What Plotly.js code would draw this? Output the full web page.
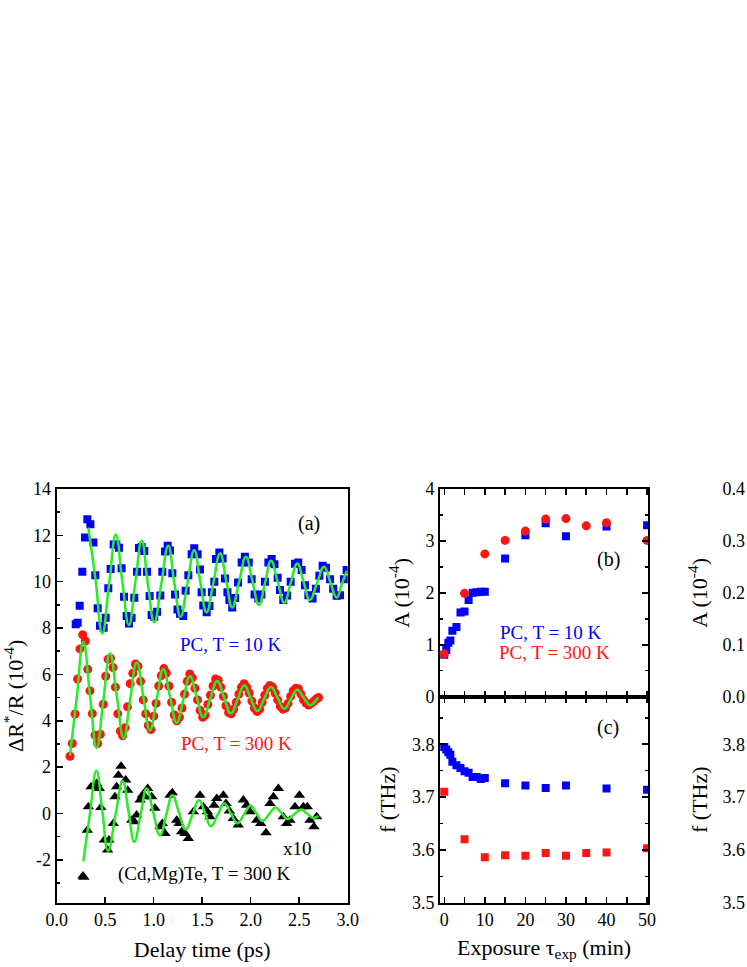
<!DOCTYPE html>
<html>
<head>
<meta charset="utf-8">
<script src="https://cdn.plot.ly/plotly-3.0.1.min.js"></script>
<style>html,body{margin:0;padding:0;background:#fff;overflow:hidden}</style>
</head>
<body>
<div id="chart" style="width:747px;height:967px"></div>
<script>
// ---- Panel (a): PC, T = 10 K (blue squares) ----
const blueT = [0.196,0.216,0.237,0.264,0.292,0.316,0.347,0.378,0.398,0.422,0.446,0.484,0.505,0.532,0.556,0.587,0.615,0.642,0.669,0.694,0.721,0.745,0.772,0.800,0.828,0.848,0.876,0.903,0.931,0.958,0.979,1.006,1.035,1.068,1.089,1.117,1.144,1.168,1.192,1.220,1.245,1.271,1.305,1.329,1.357,1.391,1.418,1.453,1.477,1.494,1.511,1.546,1.575,1.600,1.625,1.642,1.677,1.711,1.735,1.760,1.780,1.810,1.840,1.870,1.907,1.940,1.980,2.010,2.040,2.079,2.110,2.147,2.182,2.216,2.245,2.278,2.302,2.336,2.375,2.412,2.457,2.490,2.525,2.559,2.594,2.638,2.672,2.708,2.742,2.776,2.818,2.850,2.886,2.921,2.962,2.989];
const blueV = [8.16,8.23,8.96,10.43,11.91,12.70,12.48,11.69,10.28,8.85,8.10,8.01,8.45,9.72,10.55,11.61,11.61,11.47,10.58,9.35,8.52,8.20,8.45,9.31,10.43,11.45,11.50,11.33,10.43,9.38,8.56,8.49,8.70,9.41,10.43,11.30,11.55,11.35,10.37,9.45,8.80,8.62,8.52,9.61,10.28,11.18,11.44,11.18,10.53,9.54,8.97,8.68,8.95,9.55,10.00,10.98,11.26,11.00,10.14,9.55,9.21,8.89,9.30,9.97,10.83,11.08,10.83,10.11,9.45,9.28,9.45,10.00,10.83,10.98,10.75,10.17,9.64,9.21,9.40,10.00,10.78,10.83,10.50,9.85,9.42,9.28,9.70,10.26,10.69,10.60,10.11,9.70,9.39,9.42,10.11,10.50];
const blueFitT = [0.326,0.40,0.47,0.54,0.61,0.678,0.745,0.81,0.876,0.94,1.006,1.078,1.15,1.213,1.277,1.347,1.418,1.48,1.545,1.615,1.684,1.747,1.81,1.88,1.95,2.018,2.085,2.148,2.21,2.278,2.346,2.413,2.48,2.545,2.61,2.683,2.756,2.821,2.886,2.94,2.99];
const blueFitV = [12.34,10.1,7.77,9.9,12.04,9.95,8.13,9.95,11.77,9.9,8.25,9.9,11.55,9.92,8.49,9.92,11.36,10.0,8.68,9.95,11.22,10.05,8.89,9.98,11.08,10.03,8.99,9.95,10.9,10.0,9.09,9.95,10.79,10.0,9.21,9.93,10.65,9.98,9.32,9.9,10.46];

// ---- Panel (a): PC, T = 300 K (red circles) ----
const redT = [0.137,0.161,0.189,0.215,0.240,0.268,0.295,0.320,0.343,0.367,0.395,0.422,0.450,0.480,0.505,0.530,0.555,0.580,0.605,0.630,0.657,0.680,0.705,0.730,0.758,0.785,0.812,0.838,0.865,0.892,0.918,0.945,0.972,1.000,1.025,1.052,1.078,1.105,1.130,1.158,1.185,1.212,1.238,1.265,1.292,1.318,1.345,1.372,1.398,1.425,1.452,1.478,1.505,1.530,1.558,1.585,1.612,1.638,1.665,1.692,1.718,1.745,1.772,1.800,1.825,1.852,1.878,1.905,1.932,1.958,1.985,2.012,2.038,2.065,2.092,2.118,2.145,2.172,2.198,2.225,2.252,2.278,2.305,2.332,2.358,2.385,2.412,2.438,2.465,2.492,2.518,2.545,2.572,2.598,2.625,2.652,2.680,2.700];
const redV = [2.47,3.02,4.29,5.80,7.10,7.71,7.44,6.22,5.29,4.31,3.38,3.02,3.42,4.71,5.92,6.65,6.70,6.30,5.45,4.30,3.55,3.35,3.70,4.60,5.60,6.05,6.45,6.35,5.70,4.90,4.30,3.80,3.62,4.20,4.75,5.50,5.95,6.25,6.05,5.50,4.80,4.25,4.00,4.15,4.55,5.15,5.70,6.02,5.85,5.40,4.90,4.45,4.15,4.25,4.70,5.10,5.50,5.80,5.75,5.45,5.05,4.65,4.35,4.30,4.50,4.80,5.15,5.45,5.60,5.45,5.20,4.85,4.55,4.40,4.50,4.80,5.10,5.40,5.52,5.45,5.20,4.90,4.62,4.50,4.55,4.75,5.05,5.30,5.40,5.38,5.15,4.90,4.75,4.68,4.75,4.85,4.95,5.00];
const redFitT = [0.137,0.206,0.275,0.343,0.412,0.48,0.549,0.62,0.69,0.757,0.825,0.893,0.962,1.03,1.099,1.168,1.237,1.305,1.374,1.443,1.511,1.583,1.655,1.726,1.797,1.865,1.934,2.0,2.068,2.138,2.209,2.277,2.346,2.413,2.48,2.545,2.611,2.655,2.697];
const redFitV = [2.5,5.0,7.40,5.1,2.84,4.85,6.90,5.05,3.25,4.9,6.51,5.05,3.59,4.9,6.22,5.05,3.91,4.9,5.92,5.04,4.16,4.94,5.72,5.0,4.31,4.92,5.53,4.97,4.42,4.94,5.46,4.99,4.52,4.93,5.34,5.0,4.67,4.8,5.0];

// ---- Panel (a): (Cd,Mg)Te, T = 300 K, x10 (black triangles) ----
const cmtT = [0.270,0.280,0.316,0.326,0.354,0.388,0.412,0.440,0.455,0.491,0.525,0.539,0.584,0.601,0.618,0.636,0.663,0.711,0.732,0.773,0.800,0.824,0.859,0.883,0.910,0.938,0.979,1.013,1.065,1.089,1.116,1.168,1.192,1.237,1.261,1.288,1.323,1.357,1.409,1.477,1.512,1.553,1.580,1.622,1.650,1.718,1.745,1.780,1.820,1.872,1.924,1.958,1.993,2.062,2.103,2.158,2.199,2.234,2.285,2.336,2.371,2.405,2.457,2.502,2.543,2.584,2.611,2.652,2.680];
const cmtV = [-2.70,-2.75,-0.72,0.29,1.15,1.18,1.29,1.08,0.26,-1.15,-1.58,-1.15,-0.43,0.72,1.15,1.65,2.04,1.44,1.00,-0.29,-0.36,-0.07,0.58,0.79,0.72,1.08,0.72,0.22,-0.57,-0.43,-0.86,0.79,0.89,-0.29,-0.43,-0.79,-0.86,-1.08,0.07,0.79,0.29,0.07,-0.14,0.36,0.65,0.79,0.43,0.11,-0.22,-0.50,0.58,0.36,0.07,-0.29,-0.43,-0.83,0.43,0.72,1.08,-0.14,-0.43,-0.29,0.29,0.79,0.29,0.29,-0.29,-0.57,-0.14];
const cmtFitT = [0.275,0.34,0.41,0.47,0.53,0.605,0.68,0.74,0.80,0.865,0.927,0.995,1.065,1.13,1.193,1.26,1.33,1.40,1.467,1.53,1.59,1.66,1.728,1.795,1.862,1.93,1.999,2.06,2.12,2.19,2.257,2.32,2.38,2.45,2.519,2.58,2.645,2.697];
const cmtFitV = [-2.07,-0.1,1.84,0.1,-1.61,-0.1,1.39,0.1,-1.22,-0.05,1.08,0.05,-0.94,-0.05,0.79,0.05,-0.69,-0.05,0.57,0.0,-0.55,-0.05,0.43,0.0,-0.43,-0.05,0.33,0.0,-0.33,-0.03,0.26,0.0,-0.24,-0.03,0.17,0.0,-0.19,-0.11];

// ---- Panels (b) and (c): exposure dependence ----
const expBlue = [0,0.5,1,1.5,2,3,4,5,6,7,8,9,10,15,20,25,30,40,50];
const ampBlue = [0.81,0.90,1.04,1.08,1.27,1.34,1.62,1.64,1.86,2.00,2.01,2.02,2.02,2.66,3.11,3.34,3.09,3.28,3.30];
const freqBlue = [3.795,3.790,3.785,3.780,3.767,3.760,3.755,3.749,3.746,3.738,3.738,3.734,3.736,3.726,3.722,3.717,3.722,3.716,3.714];
const expRed = [0,5,10,15,20,25,30,35,40,50];
const ampRed = [0.82,1.99,2.75,3.01,3.19,3.42,3.43,3.29,3.35,3.01];
const freqRed = [3.71,3.62,3.586,3.59,3.589,3.594,3.589,3.594,3.595,3.603];

// ---- tick labels ----
const aYTicks = [-2,0,2,4,6,8,10,12,14];
const aYLabels = ['-2','0','2','4','6','8','10','12','14'];

const FONT = 'Liberation Serif, Times New Roman, serif';
const BLUE = 'rgb(0,0,255)';
const RED = 'rgb(255,20,20)';
const GREEN = 'rgb(40,235,40)';
const W = 747, H = 967;
const px = (a,b) => [a/W, b/W];
const py = (top,bottom) => [1-bottom/H, 1-top/H];

const traces = [
  {x: blueT, y: blueV, mode:'markers', marker:{symbol:'square', size:8, color:BLUE}, xaxis:'x', yaxis:'y'},
  {x: blueFitT, y: blueFitV, mode:'lines', line:{color:GREEN, width:2.5, shape:'spline', smoothing:1.3}, xaxis:'x', yaxis:'y'},
  {x: redT, y: redV, mode:'markers', marker:{symbol:'circle', size:9, color:RED}, xaxis:'x', yaxis:'y'},
  {x: redFitT, y: redFitV, mode:'lines', line:{color:GREEN, width:2.5, shape:'spline', smoothing:1.3}, xaxis:'x', yaxis:'y'},
  {x: cmtT, y: cmtV, mode:'markers', marker:{symbol:'triangle-up', size:10, color:'black'}, xaxis:'x', yaxis:'y'},
  {x: cmtFitT, y: cmtFitV, mode:'lines', line:{color:GREEN, width:2.5, shape:'spline', smoothing:1.3}, xaxis:'x', yaxis:'y'},
  {x: expBlue, y: ampBlue, mode:'markers', marker:{symbol:'square', size:8, color:BLUE}, xaxis:'x2', yaxis:'y2'},
  {x: expRed, y: ampRed, mode:'markers', marker:{symbol:'circle', size:9, color:RED}, xaxis:'x2', yaxis:'y2'},
  {x: expBlue, y: freqBlue, mode:'markers', marker:{symbol:'square', size:8, color:BLUE}, xaxis:'x3', yaxis:'y3'},
  {x: expRed, y: freqRed, mode:'markers', marker:{symbol:'square', size:8, color:RED}, xaxis:'x3', yaxis:'y3'},
  {x: [], y: [], mode:'markers', xaxis:'x4', yaxis:'y4'},
  {x: [], y: [], mode:'markers', xaxis:'x5', yaxis:'y5'}
];

const tf = {family: FONT, size: 18, color:'black'};
const ttf = {family: FONT, size: 22, color:'black'};
const base = {showgrid:false, zeroline:false, showline:true, linecolor:'black', linewidth:2,
  ticks:'inside', ticklen:6, tickwidth:1.5, tickcolor:'black', tickfont:tf};

const layout = {
  width: W, height: H, showlegend:false,
  margin:{l:0,r:0,t:0,b:0},
  paper_bgcolor:'white', plot_bgcolor:'white',
  font:{family:FONT, color:'black'},
  xaxis: Object.assign({}, base, {domain:px(56.7,347.7), range:[0,3], dtick:0.5, tickformat:'.1f', mirror:true, anchor:'y',
    title:{text:'Delay time (ps)', font:ttf, standoff:12}}),
  yaxis: Object.assign({}, base, {domain:py(489,902.7), range:[-3.85,14], tickmode:'array', tickvals:aYTicks, ticktext:aYLabels,
    minor:{dtick:1, ticks:'inside', ticklen:3, tickcolor:'black'}, mirror:true, anchor:'x',
    title:{text:'ΔR<sup>*</sup>/R (10<sup>-4</sup>)', font:ttf, standoff:8}}),
  xaxis2: Object.assign({}, base, {domain:px(440,648.3), range:[-1.05,50.3], dtick:10, showticklabels:false,
    minor:{dtick:5, ticks:'inside', ticklen:6, tickcolor:'black'}, mirror:'allticks', anchor:'y2'}),
  yaxis2: Object.assign({}, base, {domain:py(489,696.7), range:[0,4], dtick:1,
    minor:{dtick:0.5, ticks:'inside', ticklen:3, tickcolor:'black'}, mirror:'allticks', anchor:'x2',
    title:{text:'A (10<sup>-4</sup>)', font:ttf, standoff:10}}),
  xaxis3: Object.assign({}, base, {domain:px(440,648.3), range:[-1.05,50.3], dtick:10,
    minor:{dtick:5, ticks:'inside', ticklen:6, tickcolor:'black'}, mirror:'allticks', anchor:'y3',
    title:{text:'Exposure τ<sub>exp</sub> (min)', font:ttf, standoff:10}}),
  yaxis3: Object.assign({}, base, {domain:py(696.7,902.7), range:[3.5,3.89], dtick:0.1, tickformat:'.1f',
    minor:{dtick:0.05, ticks:'inside', ticklen:3, tickcolor:'black'}, mirror:'allticks', anchor:'x3',
    title:{text:'f (THz)', font:ttf, standoff:10}}),
  xaxis4: {domain:[0.9985,1], visible:false, anchor:'y4'},
  yaxis4: {domain:py(489,696.7), range:[0,0.4], dtick:0.1, tickformat:'.1f', showline:false, showgrid:false, zeroline:false,
    ticks:'', tickfont:tf, anchor:'x4', title:{text:'A (10<sup>-4</sup>)', font:ttf, standoff:8}},
  xaxis5: {domain:[0.9985,1], visible:false, anchor:'y5'},
  yaxis5: {domain:py(696.7,902.7), range:[3.5,3.89], dtick:0.1, tickformat:'.1f', showline:false, showgrid:false, zeroline:false,
    ticks:'', tickfont:tf, anchor:'x5', title:{text:'f (THz)', font:ttf, standoff:8}},
  annotations: [
    {xref:'x', yref:'y', x:2.6, y:12.5, text:'(a)', showarrow:false, font:{family:FONT, size:20, color:'black'}},
    {xref:'x', yref:'y', x:1.80, y:7.3, text:'PC, T = 10 K', showarrow:false, font:{family:FONT, size:19, color:BLUE}},
    {xref:'x', yref:'y', x:1.855, y:3.0, text:'PC, T = 300 K', showarrow:false, font:{family:FONT, size:19, color:RED}},
    {xref:'x', yref:'y', x:2.48, y:-1.5, text:'x10', showarrow:false, font:{family:FONT, size:19, color:'black'}},
    {xref:'x', yref:'y', x:1.52, y:-2.6, text:'(Cd,Mg)Te, T = 300 K', showarrow:false, font:{family:FONT, size:19, color:'black'}},
    {xref:'x2', yref:'y2', x:40.4, y:2.64, text:'(b)', showarrow:false, font:{family:FONT, size:20, color:'black'}},
    {xref:'x3', yref:'y3', x:40.3, y:3.832, text:'(c)', showarrow:false, font:{family:FONT, size:20, color:'black'}},
    {xref:'x2', yref:'y2', x:13.2, y:1.23, xanchor:'left', text:'PC, T = 10 K', showarrow:false, font:{family:FONT, size:19, color:BLUE}},
    {xref:'x2', yref:'y2', x:13.0, y:0.85, xanchor:'left', text:'PC, T = 300 K', showarrow:false, font:{family:FONT, size:19, color:RED}}
  ]
};

Plotly.newPlot('chart', traces, layout, {staticPlot:true, displayModeBar:false});
</script>
</body>
</html>
